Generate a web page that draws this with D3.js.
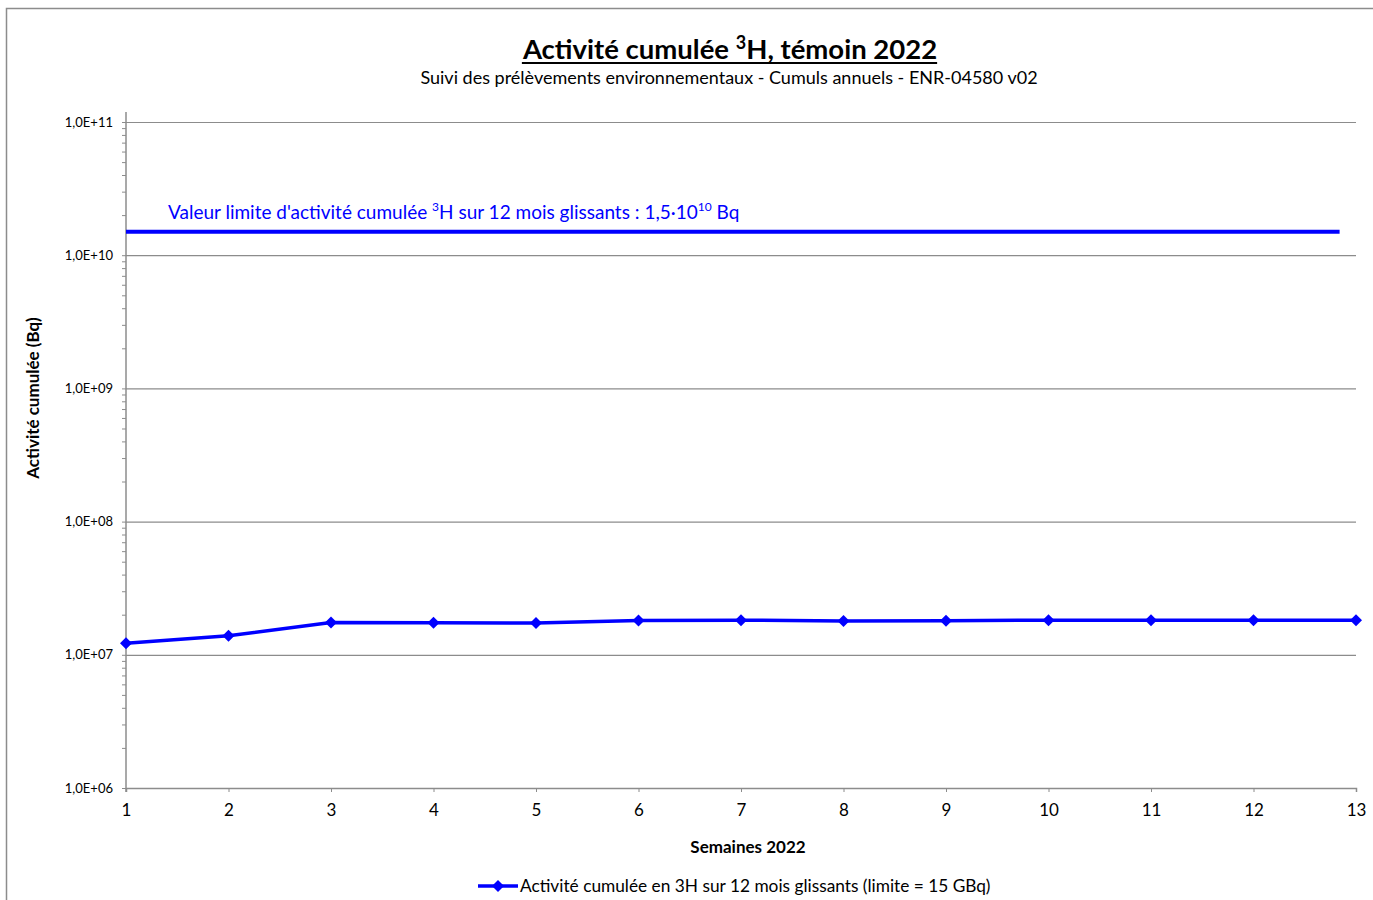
<!DOCTYPE html>
<html>
<head>
<meta charset="utf-8">
<script src="https://cdnjs.cloudflare.com/ajax/libs/d3/7.8.5/d3.min.js"></script>
<style>
  body { margin: 0; background: #fff; }
  svg { display: block; font-family: Lato, "Open Sans", sans-serif; }
</style>
</head>
<body>
<svg width="1373" height="900"></svg>
<script>
// data
const weeks = [1, 2, 3, 4, 5, 6, 7, 8, 9, 10, 11, 12, 13];
const activity = [1.22e7, 1.39e7, 1.75e7, 1.74e7, 1.73e7, 1.81e7, 1.82e7, 1.79e7, 1.80e7, 1.82e7, 1.82e7, 1.82e7, 1.82e7];
const yTicks = [1e6, 1e7, 1e8, 1e9, 1e10, 1e11];
const yTickLabels = ["1,0E+06", "1,0E+07", "1,0E+08", "1,0E+09", "1,0E+10", "1,0E+11"];
const limitValue = 1.5e10;
const limitSpan = [1, 12.84];
const seriesName = "Activité cumulée en 3H sur 12 mois glissants (limite = 15 GBq)";

(function () {
  "use strict";
  const svg = d3.select("svg");
  const width = +svg.attr("width");
  const height = +svg.attr("height");
  const blue = "#0000ff";
  const grey = "#8c8c8c";

  const margin = { top: 122, right: 17, bottom: 112, left: 126 };
  const innerWidth = width - margin.left - margin.right;
  const innerHeight = height - margin.top - margin.bottom;

  // outer chart border (runs off the right and bottom edge)
  svg.append("path")
    .attr("d", `M6.5,${height + 5}V8.5H${width + 5}`)
    .attr("fill", "none")
    .attr("stroke", grey)
    .attr("stroke-width", 1.5);

  const xScale = d3.scaleLinear().domain([1, 13]).range([0, innerWidth]);
  const yScale = d3.scaleLog().domain([1e6, 1e11]).range([innerHeight, 0]);

  const g = svg.append("g").attr("transform", `translate(${margin.left},${margin.top})`);

  // gridlines
  const grid = g.append("g")
    .call(d3.axisLeft(yScale).tickValues(yTicks).tickSize(-innerWidth).tickFormat(""));
  grid.select(".domain").remove();
  grid.selectAll("line").attr("stroke", grey).attr("stroke-width", 1.2);

  // minor ticks
  const minor = [];
  yTicks.slice(0, -1).forEach((d) => { for (let k = 2; k < 10; k++) minor.push(d * k); });
  const minorG = g.append("g").call(d3.axisLeft(yScale).tickValues(minor).tickSize(4).tickFormat(""));
  minorG.select(".domain").remove();
  minorG.selectAll("line").attr("stroke", grey);

  // y axis
  const yAxisG = g.append("g")
    .call(d3.axisLeft(yScale).tickValues(yTicks).tickSize(4).tickPadding(9)
      .tickFormat((d, i) => yTickLabels[i]));
  yAxisG.attr("font-family", null).attr("font-size", null);
  yAxisG.select(".domain").attr("d", `M0,-10V${innerHeight + 4}`).attr("stroke", grey).attr("stroke-width", 1.5);
  yAxisG.selectAll("line").attr("stroke", grey);
  yAxisG.selectAll("text").attr("font-size", 13).attr("fill", "#000");

  // x axis
  const xAxisG = g.append("g")
    .attr("transform", `translate(0,${innerHeight})`)
    .call(d3.axisBottom(xScale).tickValues(weeks).tickSize(4).tickPadding(12).tickFormat(d3.format("d")));
  xAxisG.attr("font-family", null).attr("font-size", null);
  xAxisG.select(".domain").attr("stroke", grey).attr("stroke-width", 1.5);
  xAxisG.selectAll("line").attr("stroke", grey);
  xAxisG.selectAll("text").attr("font-size", 17).attr("fill", "#000");

  // limit line + label
  g.append("line")
    .attr("x1", xScale(limitSpan[0])).attr("x2", xScale(limitSpan[1]))
    .attr("y1", yScale(limitValue)).attr("y2", yScale(limitValue))
    .attr("stroke", blue).attr("stroke-width", 4);

  const lim = g.append("text")
    .attr("x", 42).attr("y", yScale(limitValue) - 13)
    .attr("fill", blue).attr("font-size", 19);
  lim.append("tspan").text("Valeur limite d'activité cumulée ");
  lim.append("tspan").attr("font-size", 12).attr("dy", -8).text("3");
  lim.append("tspan").attr("dy", 8).text("H sur 12 mois glissants : 1,5·10");
  lim.append("tspan").attr("font-size", 12).attr("dy", -8).text("10");
  lim.append("tspan").attr("dy", 8).text(" Bq");

  // series line
  const data = weeks.map((w, i) => ({ week: w, value: activity[i] }));
  const line = d3.line().x((d) => xScale(d.week)).y((d) => yScale(d.value));
  g.append("path")
    .attr("d", line(data))
    .attr("fill", "none")
    .attr("stroke", blue)
    .attr("stroke-width", 3.5)
    .attr("stroke-linejoin", "round");

  const diamond = d3.symbol().type(d3.symbolSquare).size(72);
  g.selectAll(".pt").data(data).enter().append("path")
    .attr("class", "pt")
    .attr("d", diamond)
    .attr("transform", (d) => `translate(${xScale(d.week)},${yScale(d.value)}) rotate(45)`)
    .attr("fill", blue);

  // titles
  const title = svg.append("text")
    .attr("x", 730).attr("y", 59)
    .attr("text-anchor", "middle")
    .attr("font-size", 27.5).attr("font-weight", "bold");
  title.append("tspan").text("Activité cumulée ");
  title.append("tspan").attr("font-size", 18).attr("dy", -10).text("3");
  title.append("tspan").attr("dy", 10).text("H, témoin 2022");
  const tb = title.node().getBBox();
  svg.append("line")
    .attr("x1", tb.x).attr("x2", tb.x + tb.width)
    .attr("y1", 63).attr("y2", 63)
    .attr("stroke", "#000").attr("stroke-width", 2);

  svg.append("text")
    .attr("x", 729).attr("y", 84)
    .attr("text-anchor", "middle")
    .attr("font-size", 18)
    .text("Suivi des prélèvements environnementaux - Cumuls annuels - ENR-04580 v02");

  svg.append("text")
    .attr("transform", `translate(39,${margin.top + 276})rotate(-90)`)
    .attr("text-anchor", "middle")
    .attr("font-size", 17).attr("font-weight", "bold")
    .text("Activité cumulée (Bq)");

  svg.append("text")
    .attr("x", 748).attr("y", 853)
    .attr("text-anchor", "middle")
    .attr("font-size", 17).attr("font-weight", "bold")
    .text("Semaines 2022");

  // legend
  const leg = svg.append("g").attr("transform", "translate(478,886)");
  leg.append("line").attr("x1", 0).attr("x2", 40).attr("stroke", blue).attr("stroke-width", 3.5);
  leg.append("path").attr("d", diamond).attr("transform", "translate(20,0) rotate(45)").attr("fill", blue);
  leg.append("text").attr("x", 42).attr("y", 6).attr("font-size", 17.3).text(seriesName);
})();
</script>
</body>
</html>
